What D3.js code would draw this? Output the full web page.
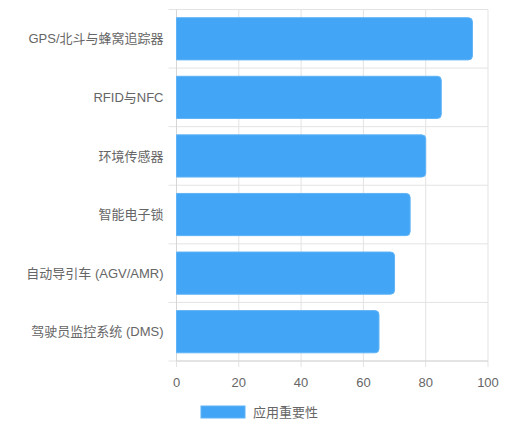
<!DOCTYPE html>
<html>
<head>
<meta charset="utf-8">
<script src="https://cdn.jsdelivr.net/npm/d3@7"></script>
<style>
  html, body { margin: 0; padding: 0; background: #fff; }
  svg text { font-family: "Liberation Sans", Arial, "Noto Sans CJK SC", sans-serif; }
</style>
</head>
<body>
<div id="chart"></div>
<script>
const categories = [
  "GPS/北斗与蜂窝追踪器",
  "RFID与NFC",
  "环境传感器",
  "智能电子锁",
  "自动导引车 (AGV/AMR)",
  "驾驶员监控系统 (DMS)"
];
const values = [95, 85, 80, 75, 70, 65];
const xTicks = [0, 20, 40, 60, 80, 100];
const seriesName = "应用重要性";

const W = 522, H = 428;
const margin = { top: 9.5, right: 34, bottom: 67, left: 176.5 };
const width = W - margin.left - margin.right;
const height = H - margin.top - margin.bottom;

const barColor = "#42a5f5";
const gridColor = "#e3e3e3";
const textColor = "#666";
const fontSize = 13;

const svg = d3.select("#chart").append("svg")
  .attr("width", W)
  .attr("height", H);

const g = svg.append("g")
  .attr("transform", `translate(${margin.left},${margin.top})`);

const x = d3.scaleLinear().domain([0, 100]).range([0, width]);
const y = d3.scaleBand().domain(categories).range([0, height]);

// vertical grid lines + x ticks
g.append("g")
  .selectAll("line")
  .data(xTicks)
  .join("line")
  .attr("x1", d => x(d)).attr("x2", d => x(d))
  .attr("y1", 0).attr("y2", height + 6)
  .attr("stroke", gridColor)
  .attr("stroke-width", 1);

// horizontal row separators
const rowEdges = categories.map(c => y(c)).concat([height]);
g.append("g")
  .selectAll("line")
  .data(rowEdges)
  .join("line")
  .attr("x1", -8).attr("x2", width)
  .attr("y1", d => d).attr("y2", d => d)
  .attr("stroke", gridColor)
  .attr("stroke-width", 1);

// axis lines (slightly darker)
g.append("line")
  .attr("x1", 0).attr("x2", 0).attr("y1", 0).attr("y2", height)
  .attr("stroke", "#d6d6d6");
g.append("line")
  .attr("x1", 0).attr("x2", width).attr("y1", height).attr("y2", height)
  .attr("stroke", "#d6d6d6");

// bars: square on the left, rounded on the right
const barH = y.bandwidth() * 0.72;
const r = 4;
function barPath(d, i) {
  const x0 = x(0), x1 = x(d);
  const y0 = y(categories[i]) + (y.bandwidth() - barH) / 2;
  const y1 = y0 + barH;
  return `M${x0},${y0}H${x1 - r}Q${x1},${y0} ${x1},${y0 + r}` +
    `V${y1 - r}Q${x1},${y1} ${x1 - r},${y1}H${x0}Z`;
}
g.append("g")
  .selectAll("path")
  .data(values)
  .join("path")
  .attr("d", barPath)
  .attr("fill", barColor)
  .attr("stroke", "#5fb3f6")
  .attr("stroke-width", 1);

// x tick labels
g.append("g")
  .selectAll("text")
  .data(xTicks)
  .join("text")
  .attr("x", d => x(d))
  .attr("y", height + 21)
  .attr("dy", "0.35em")
  .attr("text-anchor", "middle")
  .attr("font-size", fontSize)
  .attr("fill", textColor)
  .text(d => d);

// category labels
g.append("g")
  .selectAll("text")
  .data(categories)
  .join("text")
  .attr("x", -13)
  .attr("y", d => y(d) + y.bandwidth() / 2)
  .attr("dy", "0.35em")
  .attr("text-anchor", "end")
  .attr("font-size", fontSize)
  .attr("fill", textColor)
  .text(d => d);

// legend
const legend = svg.append("g").attr("transform", "translate(201,406)");
legend.append("rect")
  .attr("width", 44).attr("height", 12)
  .attr("fill", barColor)
  .attr("stroke", "#5fb3f6");
legend.append("text")
  .attr("x", 52).attr("y", 6)
  .attr("dy", "0.35em")
  .attr("font-size", fontSize)
  .attr("fill", textColor)
  .text(seriesName);
</script>
</body>
</html>
